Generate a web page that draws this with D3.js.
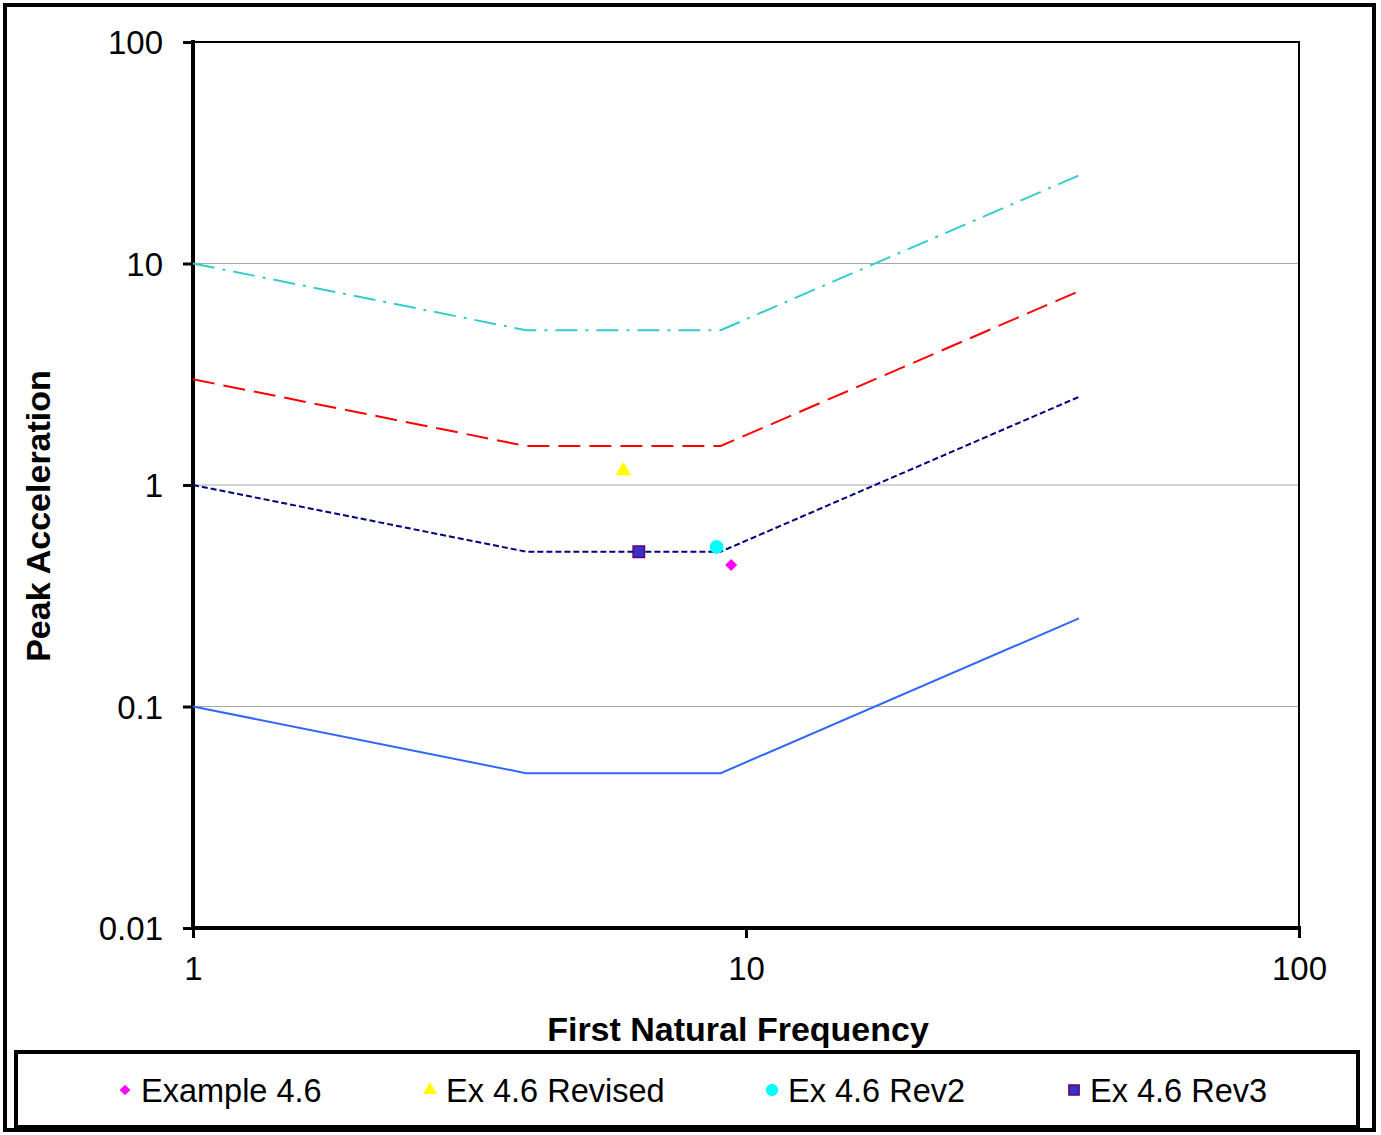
<!DOCTYPE html>
<html>
<head>
<meta charset="utf-8">
<script src="https://cdn.jsdelivr.net/npm/d3@7"></script>
<style>
  body { margin: 0; background: #fff; }
  text { font-family: "Liberation Sans", Arial, sans-serif; }
</style>
</head>
<body>
<div class="chart"></div>
<script>
// limit curves (frequency, acceleration)
var freqs = [1, 4, 9, 40];
var curveOutdoor = [10, 5, 5, 25];
var curveIndoor = [3, 1.5, 1.5, 7.5];
var curveOffice = [1, 0.5, 0.5, 2.5];
var curveISO = [0.1, 0.05, 0.05, 0.25];

// design points
var pointNames = ["Example 4.6", "Ex 4.6 Revised", "Ex 4.6 Rev2", "Ex 4.6 Rev3"];
var pointFreq = [9.4, 6.0, 8.85, 6.4];
var pointAcc = [0.435, 1.16, 0.525, 0.5];

var xTicks = [1, 10, 100];
var yTicks = [0.01, 0.1, 1, 10, 100];

var W = 1381, H = 1135;
var margin = {top: 42, left: 193};
var width = 1299 - 193, height = 928 - 42;

var svg = d3.select(".chart").append("svg")
    .attr("width", W)
    .attr("height", H);

// outer frame
svg.append("rect")
    .attr("x", 5).attr("y", 5)
    .attr("width", 1369).attr("height", 1125)
    .attr("fill", "none").attr("stroke", "#000").attr("stroke-width", 4);

var g = svg.append("g")
    .attr("transform", "translate(" + margin.left + "," + margin.top + ")");

var x = d3.scaleLog().domain([1, 100]).range([0, width]);
var y = d3.scaleLog().domain([0.01, 100]).range([height, 0]);

// gridlines
g.selectAll(".grid")
    .data([0.1, 1, 10])
  .enter().append("line")
    .attr("class", "grid")
    .attr("x1", 0).attr("x2", width)
    .attr("y1", function(d) { return y(d); })
    .attr("y2", function(d) { return y(d); })
    .attr("stroke", "#a8a8a8").attr("stroke-width", 1);

// top and right frame of plot
g.append("path")
    .attr("d", "M0,0H" + width + "V" + height)
    .attr("fill", "none").attr("stroke", "#000").attr("stroke-width", 2);

var fmt = function(d) { return d3.format("~g")(d); };

var yAxis = d3.axisLeft(y).tickValues(yTicks).tickFormat(fmt).tickSize(10).tickPadding(20);
var xAxis = d3.axisBottom(x).tickValues(xTicks).tickFormat(fmt).tickSize(10).tickPadding(17);

var ya = g.append("g").call(yAxis);
var xa = g.append("g").attr("transform", "translate(0," + height + ")").call(xAxis);

[ya, xa].forEach(function(a) {
  a.select(".domain").attr("stroke", "#000").attr("stroke-width", 4);
  a.selectAll(".tick line").attr("stroke", "#000").attr("stroke-width", 3);
  a.selectAll("text")
      .attr("fill", "#000")
      .style("font-size", "33px")
      .style("font-family", "'Liberation Sans', Arial, sans-serif");
});
ya.select(".domain").attr("d", "M0," + height + "V0").attr("stroke-linecap", "square");
xa.select(".domain").attr("d", "M0,0H" + width).attr("stroke-linecap", "square");
ya.selectAll("text").attr("dy", "0.35em");
xa.selectAll("text").attr("dy", "0.75em");

// curves
var line = d3.line()
    .x(function(d) { return x(d[0]); })
    .y(function(d) { return y(d[1]); });

var curves = [
  {vals: curveOutdoor, color: "#33cccc", dash: "22,8,3,8"},
  {vals: curveIndoor, color: "#ff0000", dash: "22,9"},
  {vals: curveOffice, color: "#000080", dash: "6,3"},
  {vals: curveISO, color: "#3366ff", dash: null}
];

curves.forEach(function(c) {
  g.append("path")
      .datum(freqs.map(function(f, i) { return [f, c.vals[i]]; }))
      .attr("d", line)
      .attr("fill", "none")
      .attr("stroke", c.color)
      .attr("stroke-width", 2)
      .attr("stroke-dasharray", c.dash);
});

// markers
var markerStyles = [
  {type: d3.symbolSquare, size: 72, rot: 45, fill: "#ff00ff", stroke: "none"},
  {type: d3.symbolTriangle, size: 105, rot: 0, fill: "#ffff00", stroke: "none"},
  {type: d3.symbolCircle, size: 150, rot: 0, fill: "#00ffff", stroke: "none"},
  {type: d3.symbolSquare, size: 130, rot: 0, fill: "#3333cc", stroke: "#660066"}
];

function drawMarker(sel, i, px, py, k) {
  var m = markerStyles[i];
  sel.append("path")
      .attr("d", d3.symbol().type(m.type).size(m.size * k)())
      .attr("transform", "translate(" + px + "," + py + ") rotate(" + m.rot + ")")
      .attr("fill", m.fill)
      .attr("stroke", m.stroke)
      .attr("stroke-width", 1.5);
}

pointNames.forEach(function(n, i) {
  drawMarker(g, i, x(pointFreq[i]), y(pointAcc[i]), 1);
});

// axis titles
svg.append("text")
    .attr("x", 738).attr("y", 1041)
    .attr("text-anchor", "middle")
    .style("font-size", "34px").style("font-weight", "bold")
    .text("First Natural Frequency");

svg.append("text")
    .attr("transform", "translate(50,516) rotate(-90)")
    .attr("text-anchor", "middle")
    .style("font-size", "34px").style("font-weight", "bold")
    .text("Peak Acceleration");

// legend
var legend = svg.append("g");
legend.append("rect")
    .attr("x", 16).attr("y", 1052)
    .attr("width", 1342).attr("height", 75)
    .attr("fill", "#fff").attr("stroke", "#000").attr("stroke-width", 4);

var legX = [125, 430, 772, 1074];
pointNames.forEach(function(n, i) {
  drawMarker(legend, i, legX[i], 1090, 0.8);
  legend.append("text")
      .attr("x", legX[i] + 16).attr("y", 1102)
      .style("font-size", "32.5px")
      .text(n);
});
</script>
</body>
</html>
